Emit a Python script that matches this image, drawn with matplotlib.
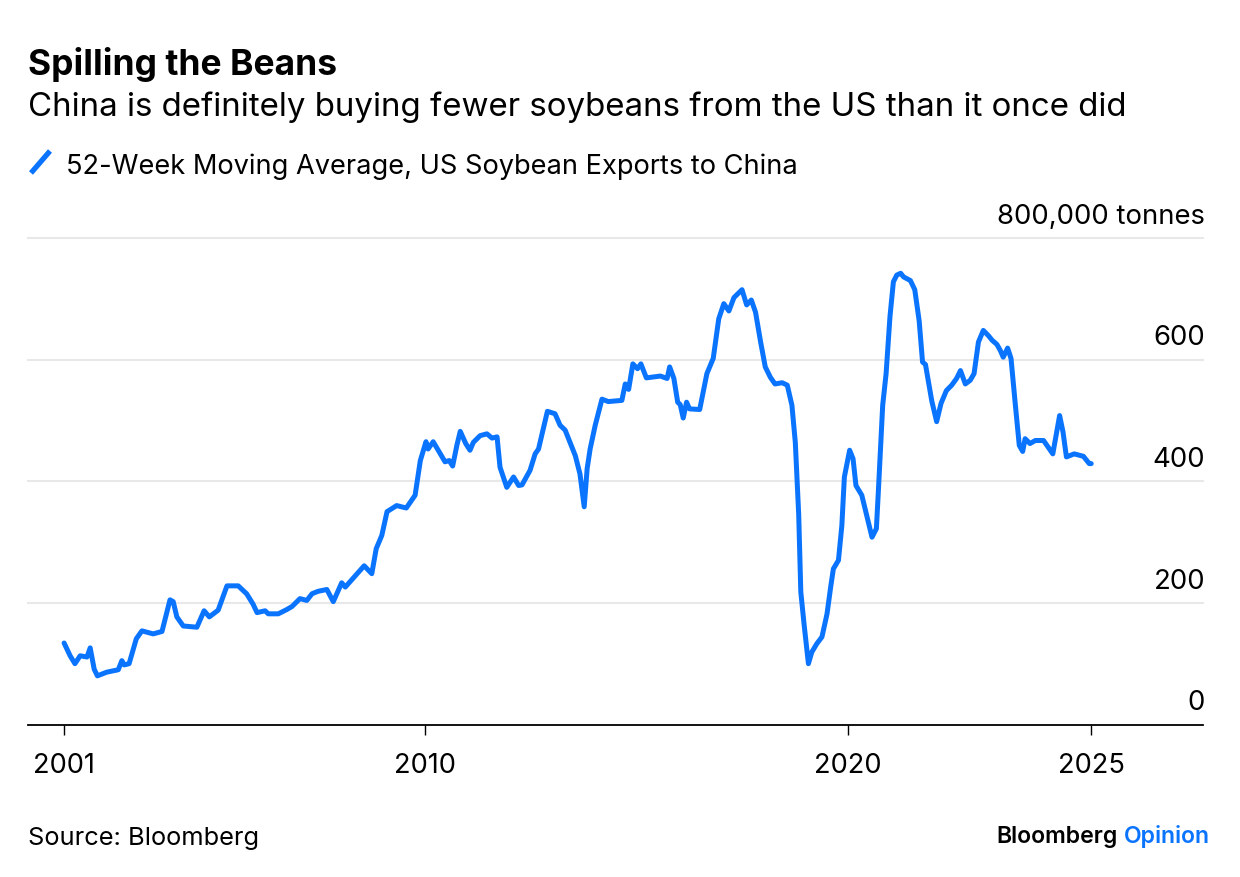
import numpy as np
import matplotlib
matplotlib.use('Agg')
import matplotlib.pyplot as plt
from matplotlib.lines import Line2D

# 52-week moving average, thousand tonnes
years = [2001.00, 2001.15, 2001.27, 2001.40, 2001.57, 2001.65, 2001.75, 2001.83, 2002.06, 2002.35,
         2002.44, 2002.50, 2002.62, 2002.80, 2002.94, 2003.22, 2003.44, 2003.64, 2003.72, 2003.81,
         2003.97, 2004.31, 2004.49, 2004.62, 2004.84, 2005.06, 2005.34, 2005.55, 2005.71, 2005.81,
         2006.01, 2006.09, 2006.34, 2006.55, 2006.68, 2006.88, 2007.05, 2007.18, 2007.33, 2007.55,
         2007.71, 2007.92, 2008.01, 2008.13, 2008.30, 2008.48, 2008.67, 2008.78, 2008.92, 2009.05,
         2009.29, 2009.53, 2009.75, 2009.88, 2010.02, 2010.07, 2010.19, 2010.47, 2010.57, 2010.65,
         2010.75, 2010.83, 2010.96, 2011.06, 2011.14, 2011.30, 2011.46, 2011.58, 2011.70, 2011.77,
         2011.93, 2012.09, 2012.21, 2012.29, 2012.48, 2012.60, 2012.68, 2012.89, 2013.07, 2013.19,
         2013.31, 2013.55, 2013.66, 2013.76, 2013.83, 2013.90, 2014.02, 2014.18, 2014.33, 2014.65,
         2014.73, 2014.81, 2014.91, 2015.02, 2015.10, 2015.23, 2015.56, 2015.72, 2015.78, 2015.88,
         2015.97, 2016.03, 2016.10, 2016.18, 2016.25, 2016.49, 2016.66, 2016.81, 2016.94, 2017.06,
         2017.18, 2017.30, 2017.49, 2017.60, 2017.71, 2017.81, 2017.93, 2018.04, 2018.16, 2018.27,
         2018.44, 2018.56, 2018.67, 2018.75, 2018.83, 2018.88, 2018.96, 2019.06, 2019.14, 2019.26,
         2019.38, 2019.50, 2019.59, 2019.65, 2019.77, 2019.85, 2019.91, 2020.03, 2020.10, 2020.16,
         2020.28, 2020.38, 2020.49, 2020.58, 2020.62, 2020.71, 2020.78, 2020.86, 2020.93, 2021.00,
         2021.08, 2021.14, 2021.28, 2021.37, 2021.46, 2021.53, 2021.59, 2021.72, 2021.82, 2021.91,
         2022.02, 2022.13, 2022.23, 2022.31, 2022.41, 2022.51, 2022.59, 2022.68, 2022.78, 2022.89,
         2022.96, 2023.06, 2023.13, 2023.19, 2023.28, 2023.35, 2023.44, 2023.52, 2023.59, 2023.64,
         2023.74, 2023.85, 2024.02, 2024.09, 2024.21, 2024.35, 2024.42, 2024.49, 2024.65, 2024.84,
         2024.96, 2025.00]
exports = [134, 113, 100, 113, 111, 126, 91, 80, 86, 90,
           105, 98, 100, 141, 154, 149, 153, 205, 202, 177,
           162, 160, 187, 177, 188, 228, 228, 215, 198, 184,
           187, 182, 182, 189, 194, 207, 204, 215, 219, 222,
           202, 233, 226, 235, 248, 261, 248, 289, 311, 350,
           360, 356, 377, 434, 465, 453, 465, 432, 434, 425,
           459, 482, 462, 451, 464, 475, 478, 471, 473, 423,
           390, 407, 393, 394, 418, 445, 453, 515, 511, 492,
           484, 442, 412, 358, 421, 453, 492, 535, 531, 533,
           560, 551, 593, 585, 593, 570, 573, 569, 588, 569,
           530, 526, 504, 530, 519, 518, 577, 602, 667, 692,
           680, 702, 715, 690, 698, 678, 629, 588, 571, 560,
           562, 558, 525, 464, 346, 218, 163, 100, 119, 133,
           144, 182, 228, 256, 270, 327, 407, 451, 437, 393,
           377, 344, 308, 322, 382, 525, 577, 671, 728, 739,
           742, 736, 730, 715, 664, 596, 592, 532, 498, 528,
           549, 558, 569, 582, 560, 566, 577, 629, 648, 639,
           632, 625, 615, 604, 619, 602, 525, 459, 449, 470,
           462, 467, 467, 459, 445, 508, 481, 440, 445, 441,
           429, 429]

tick_years = [2001, 2010, 2020, 2025]
y_ticks = [0, 200, 400, 600, 800]
y_labels = ['0', '200', '400', '600', '800,000 tonnes']

BLUE = '#0a74ff'
GRID = '#e8e8e8'
plt.rcParams['font.family'] = ['Inter', 'DejaVu Sans']

# the reference's time axis is not evenly spaced; these knots copy its spacing
knot_years = [1990, 2001, 2010, 2020, 2025, 2040]
knot_pos = [-377.2, 64, 425, 848, 1091, 1820]


def fwd(x):
    return np.interp(x, knot_years, knot_pos)


def inv(p):
    return np.interp(p, knot_pos, knot_years)


W, H = 1240, 878
fig = plt.figure(figsize=(W / 100, H / 100), dpi=100)
ax = fig.add_axes([28 / W, (H - 725.5) / H, (1203 - 28) / W, (725.5 - 239) / H])
ax.set_xscale('function', functions=(fwd, inv))

for v in y_ticks[1:]:
    ax.axhline(v, color=GRID, lw=1.5, clip_on=False, zorder=0)

ax.plot(years, exports, color=BLUE, lw=3.6, solid_joinstyle='round',
        solid_capstyle='round', zorder=3)

ax.set_xlim(2000.1, 2027.3)
ax.set_ylim(0, 800)

for s in ['top', 'right', 'left']:
    ax.spines[s].set_visible(False)
ax.spines['bottom'].set_color('black')
ax.spines['bottom'].set_linewidth(1.3)
ax.set_yticks([])
ax.set_xticks(tick_years)
ax.set_xticklabels([str(y) for y in tick_years])
ax.xaxis.set_minor_locator(matplotlib.ticker.NullLocator())
ax.tick_params(axis='x', direction='out', length=7, width=1, color='black',
               pad=13, labelsize=19.6)

for v, lab in zip(y_ticks, y_labels):
    ax.annotate(lab, xy=(1, v), xycoords=('axes fraction', 'data'),
                xytext=(1.5, 11), textcoords='offset points',
                ha='right', va='baseline', fontsize=19.8)

# header
fig.text(28 / W, 1 - 75 / H, 'Spilling the Beans', fontsize=25.5,
         fontweight='bold', va='baseline')
fig.text(28 / W, 1 - 116 / H,
         'China is definitely buying fewer soybeans from the US than it once did',
         fontsize=23.8, va='baseline')
fig.add_artist(Line2D([31 / W, 50 / W], [1 - 174 / H, 1 - 152 / H],
                      transform=fig.transFigure, color=BLUE, lw=3.8,
                      solid_capstyle='butt'))
fig.text(66 / W, 1 - 174 / H, '52-Week Moving Average, US Soybean Exports to China',
         fontsize=19.6, va='baseline')

# footer
fig.text(28 / W, 1 - 845 / H, 'Source: Bloomberg', fontsize=18.3, va='baseline')
fig.text(1118 / W, 1 - 843 / H, 'Bloomberg', fontsize=16.6, fontweight='semibold',
         va='baseline', ha='right')
fig.text(1124 / W, 1 - 843 / H, 'Opinion', fontsize=16.6, fontweight='semibold',
         va='baseline', ha='left', color=BLUE)

fig.savefig('out.png', dpi=100)
